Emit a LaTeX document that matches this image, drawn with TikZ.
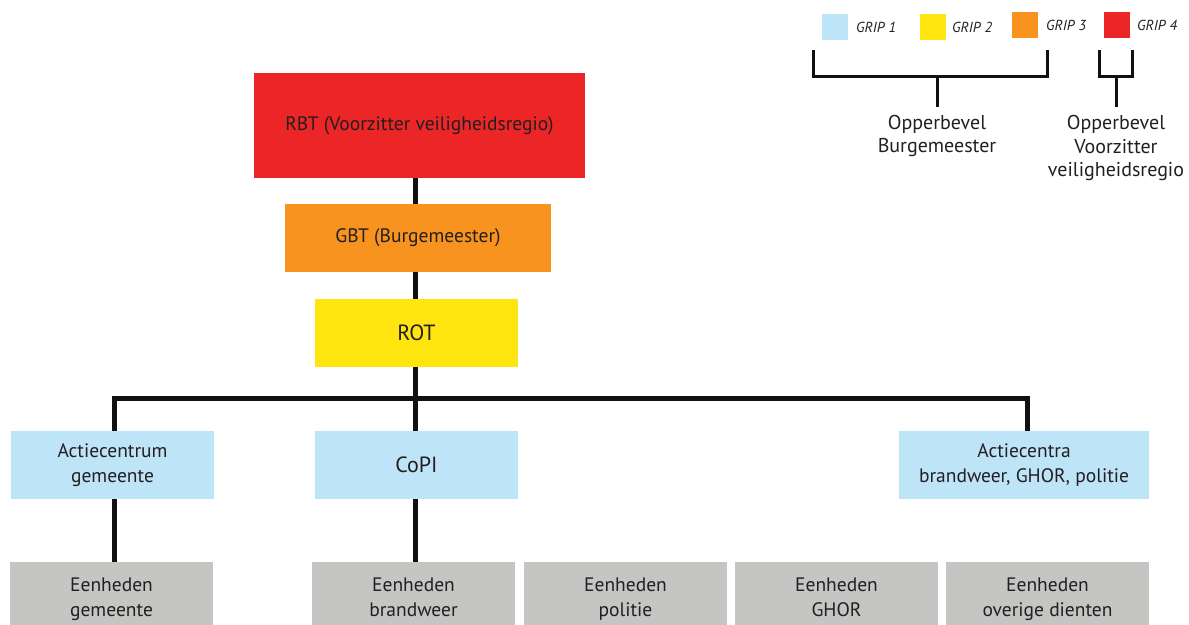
\documentclass[tikz,border=0pt]{standalone}
\usepackage{fontspec}
\setmainfont{PT Sans}
\definecolor{gripred}{HTML}{EC2526}
\definecolor{griporange}{HTML}{F7931E}
\definecolor{gripyellow}{HTML}{FFE50F}
\definecolor{gripblue}{HTML}{BEE4F8}
\definecolor{unitgray}{HTML}{C5C5C4}
\definecolor{linecol}{HTML}{111111}
\definecolor{txt}{HTML}{231F20}
\begin{document}
\begin{tikzpicture}[x=1pt,y=-1pt,
  box/.style={rectangle, inner sep=0pt, align=center, text=txt, font=\fontsize{19.5}{25}\selectfont},
  unitbox/.style={box, fill=unitgray, minimum width=203pt, minimum height=74pt},
  bluebox/.style={box, fill=gripblue, minimum height=68pt},
  conn/.style={line width=5pt, draw=linecol},
  brk/.style={line width=3pt, draw=linecol},
  swatch/.style={rectangle, inner sep=0pt, minimum size=26pt},
  griplbl/.style={anchor=west, inner sep=0pt, text=txt, font=\fontsize{14.5}{16}\selectfont\itshape},
  legtxt/.style={align=center, inner sep=0pt, text=txt, font=\fontsize{20}{23.5}\selectfont}]
\useasboundingbox (0,0) rectangle (1189,624);
\clip (0,0) rectangle (1189,624);
% main boxes
\node[box, fill=gripred, minimum width=331pt, minimum height=105pt] (rbt) at (419.5,125.5) {RBT (Voorzitter veiligheidsregio)};
\node[box, fill=griporange, minimum width=266pt, minimum height=68pt] (gbt) at (418,238) {GBT (Burgemeester)};
\node[box, fill=gripyellow, minimum width=203pt, minimum height=68pt, font=\fontsize{22}{25}\selectfont] (rot) at (416.5,333) {ROT};
\node[bluebox, minimum width=203pt] (actg) at (112.5,465) {\strut Actiecentrum\\\strut gemeente};
\node[bluebox, minimum width=203pt, font=\fontsize{22}{25}\selectfont] (copi) at (416.5,465) {CoPI};
\node[bluebox, minimum width=250pt] (actc) at (1024,465) {\strut Actiecentra\\\strut brandweer, GHOR, politie};
\node[unitbox] (eg) at (111.5,599) {\strut Eenheden\\\strut gemeente};
\node[unitbox] (eb) at (413.5,599) {\strut Eenheden\\\strut brandweer};
\node[unitbox] (ep) at (625.5,599) {\strut Eenheden\\\strut politie};
\node[unitbox] (eh) at (836.5,599) {\strut Eenheden\\\strut GHOR};
\node[unitbox] (eo) at (1047.5,599) {\strut Eenheden\\\strut overige dienten};
% connectors
\coordinate (spine) at (415,0);
\coordinate (lx) at (114,0);
\coordinate (rx) at (1027.5,0);
\coordinate (bus) at (0,398);
\draw[conn] (rbt.south -| spine) -- (gbt.north -| spine);
\draw[conn] (gbt.south -| spine) -- (rot.north -| spine);
\draw[conn] (rot.south -| spine) -- (copi.north -| spine);
\draw[conn] (actg.north -| lx) -- (lx |- bus) -- (rx |- bus) -- (actc.north -| rx);
\draw[conn] (actg.south -| lx) -- (eg.north -| lx);
\draw[conn] (copi.south -| spine) -- (eb.north -| spine);
% legend
\node[swatch, fill=gripblue] (g1) at (835,27) {};
\node[swatch, fill=gripyellow] (g2) at (933,27) {};
\node[swatch, fill=griporange] (g3) at (1025,24.5) {};
\node[swatch, fill=gripred] (g4) at (1117,24.5) {};
\node[griplbl] (l1) at (856,27) {GRIP 1};
\node[griplbl] (l2) at (952,27) {GRIP 2};
\node[griplbl] (l3) at (1046,25.5) {GRIP 3};
\node[griplbl] (l4) at (1137,25.5) {GRIP 4};
\node[legtxt] (ob) at (937,136.5) {\strut Opperbevel\\\strut Burgemeester};
\node[legtxt] (ov) at (1116,148.5) {\strut Opperbevel\\\strut Voorzitter\\\strut veiligheidsregio};
\coordinate (b1a) at (813,50);
\coordinate (b1b) at (1047,50);
\coordinate (b1m) at (937,76);
\coordinate (b2a) at (1099,50);
\coordinate (b2b) at (1132,50);
\coordinate (b2m) at (1116,76);
\draw[brk] (b1a) -- (b1a |- b1m) -- (b1b |- b1m) -- (b1b);
\draw[brk] (b1m) -- (937,107);
\draw[brk] (b2a) -- (b2a |- b2m) -- (b2b |- b2m) -- (b2b);
\draw[brk] (b2m) -- (1116,107);
\end{tikzpicture}
\end{document}
